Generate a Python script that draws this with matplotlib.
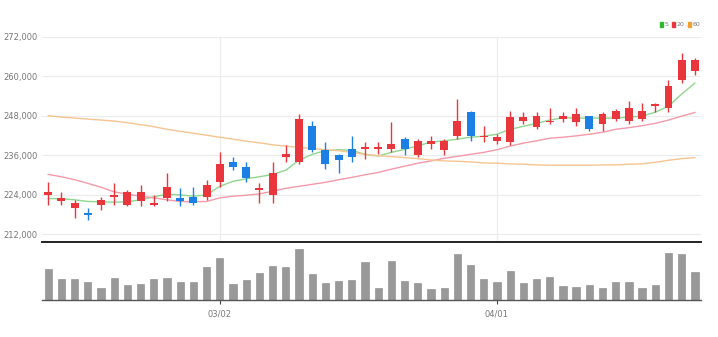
import numpy as np
import matplotlib
matplotlib.use('Agg')
import matplotlib.pyplot as plt
from matplotlib.patches import Patch

# daily OHLC (KRW)
opens = [224000, 222000, 220000, 218500, 221000, 223500, 221000, 222000, 221000, 223000,
         223000, 223500, 223500, 228000, 234000, 232500, 225500, 224000, 235500, 234000,
         245000, 237500, 236000, 238000, 238000, 238000, 238000, 241000, 236000, 239500,
         237500, 242000, 249000, 241500, 240500, 240000, 246500, 244500, 246000, 247000,
         246000, 248000, 245500, 247000, 246500, 247000, 251000, 250500, 259000, 261500]
highs = [228000, 225000, 222500, 220000, 223500, 227500, 225500, 227000, 224000, 230500,
         226000, 226500, 228500, 237000, 235500, 234000, 227500, 234000, 239000, 248500,
         246500, 240000, 236500, 242000, 240000, 240000, 246000, 241500, 241000, 242000,
         241000, 253000, 249500, 245000, 242500, 249500, 249000, 249000, 250500, 249000,
         250500, 248000, 249000, 250000, 252500, 252000, 252000, 259000, 267000, 265500]
lows = [221000, 221000, 217000, 216500, 219500, 221000, 220500, 220500, 220500, 222000,
        220500, 221000, 222500, 226500, 231500, 228000, 221500, 221500, 234000, 233500,
        237000, 232000, 230500, 234000, 235000, 236500, 237000, 236000, 235500, 238000,
        236000, 241000, 240500, 240000, 239500, 239000, 245500, 244000, 245500, 246000,
        245000, 243500, 243500, 246500, 245500, 246500, 249000, 249000, 258000, 260500]
closes = [225000, 223000, 221500, 218000, 222500, 224000, 225000, 225000, 221500, 226500,
          222000, 221500, 227000, 233500, 232500, 229000, 226000, 230500, 236500, 247000,
          237500, 233500, 234500, 235500, 238500, 238500, 239500, 238000, 240500, 240500,
          240500, 246500, 242000, 242000, 241500, 247500, 247500, 248000, 246500, 248000,
          248500, 244000, 248500, 249500, 250500, 249500, 251500, 257000, 265000, 265000]

# moving averages
ma5 = [222900, 222800, 222500, 222000, 221900, 221800, 221900, 222500, 223400, 224200,
       224000, 223600, 224000, 226600, 228100, 228900, 229500, 230200, 231500, 234500,
       236300, 237400, 237700, 237500, 236300, 235800, 236900, 237800, 238900, 240000,
       240400, 240900, 241500, 241800, 242400, 243900, 244800, 245700, 246700, 247400,
       247300, 247300, 247300, 247300, 247600, 247900, 249100, 250900, 254600, 257900]
ma20 = [230200, 229500, 228600, 227500, 226300, 224900, 224200, 223600, 223100, 222500,
        222000, 221900, 222000, 223100, 223600, 223900, 224300, 225100, 226000, 226600,
        227200, 227800, 228600, 229300, 230100, 230800, 231800, 232700, 233600, 234300,
        235100, 235700, 236300, 236900, 237700, 238800, 239700, 240400, 241200, 241500,
        241900, 242400, 243000, 243900, 244400, 245000, 245700, 246700, 247900, 249000]
ma60 = [248000, 247600, 247300, 247000, 246700, 246400, 245900, 245300, 244700, 243900,
        243300, 242700, 242100, 241500, 240900, 240300, 239800, 239200, 238800, 238400,
        238100, 237700, 237400, 236900, 236300, 235900, 235600, 235300, 235000, 234600,
        234300, 234200, 234000, 233700, 233600, 233400, 233300, 233100, 233000, 233000,
        233000, 233000, 233100, 233100, 233300, 233400, 233900, 234500, 235000, 235300]

volumes = [620000, 426000, 426000, 366000, 234000, 446000, 300000, 326000, 414000, 446000,
           366000, 366000, 666000, 846000, 326000, 400000, 540000, 674000, 660000, 1014000,
           520000, 340000, 386000, 394000, 766000, 230000, 786000, 386000, 340000, 226000,
           240000, 914000, 700000, 426000, 354000, 580000, 340000, 414000, 454000, 280000,
           260000, 306000, 240000, 360000, 360000, 234000, 294000, 934000, 914000, 554000]

tick_idx = [13, 34]
tick_labels = ['03/02', '04/01']
price_ticks = [212000, 224000, 236000, 248000, 260000, 272000]

up_color = '#e8363c'
down_color = '#1c7fe6'
grid_color = '#ebebeb'
text_color = '#777777'

plt.rcParams['font.family'] = ['DejaVu Sans']

fig = plt.figure(figsize=(7.18, 3.37), dpi=100)
ax = fig.add_axes([0.058, 0.2819, 0.919, 0.6092])
axv = fig.add_axes([0.058, 0.1098, 0.919, 0.1721], sharex=ax)

x = np.arange(len(closes))
o = np.array(opens)
c = np.array(closes)
colors = [up_color if cc >= oo else down_color for oo, cc in zip(o, c)]

# candles: wick then body
ax.vlines(x, lows, highs, colors=colors, linewidth=1.0, zorder=3)
ax.bar(x, np.abs(c - o), bottom=np.minimum(o, c), width=0.6, color=colors, zorder=4)

ax.plot(x, ma5, color='#8fd68f', lw=1.0, zorder=2)
ax.plot(x, ma20, color='#f39aaa', lw=1.0, zorder=2)
ax.plot(x, ma60, color='#f6c490', lw=1.0, zorder=2)

ax.set_xlim(-0.5, len(closes) - 0.5)
ax.set_ylim(209700, 272000)
ax.set_yticks(price_ticks)
ax.set_yticklabels([f'{p:,}' for p in price_ticks])
ax.tick_params(axis='y', length=0, pad=3, labelsize=6, labelcolor=text_color)
ax.tick_params(axis='x', length=0, labelbottom=False)
ax.set_xticks(tick_idx)
ax.grid(True, color=grid_color, lw=0.8)
ax.set_axisbelow(True)
for s in ax.spines.values():
    s.set_visible(False)

# volume panel
axv.bar(x, volumes, width=0.55, color='#999999', edgecolor='#888888', lw=0.4)
axv.set_ylim(0, max(volumes) * 58 / 50.7)
axv.set_yticks([])
axv.set_xticks(tick_idx)
axv.set_xticklabels(tick_labels)
axv.tick_params(axis='x', length=3, width=0.8, color='#444444', pad=4,
                labelsize=6, labelcolor=text_color)
for side in ['left', 'right']:
    axv.spines[side].set_visible(False)
axv.spines['top'].set_color('#222222')
axv.spines['top'].set_linewidth(1.4)
axv.spines['bottom'].set_color('#555555')
axv.spines['bottom'].set_linewidth(1.0)

handles = [Patch(color='#2eb82e', label='5'),
           Patch(color='#e8363c', label='20'),
           Patch(color='#f0a030', label='60')]
fig.legend(handles=handles, loc='center right', bbox_to_anchor=(0.98, 0.927),
           ncol=3, frameon=False, fontsize=4.5, handlelength=0.45, handleheight=0.9,
           handletextpad=0.25, columnspacing=0.6, labelcolor=text_color, borderpad=0)

fig.savefig('out.png', dpi=100)
